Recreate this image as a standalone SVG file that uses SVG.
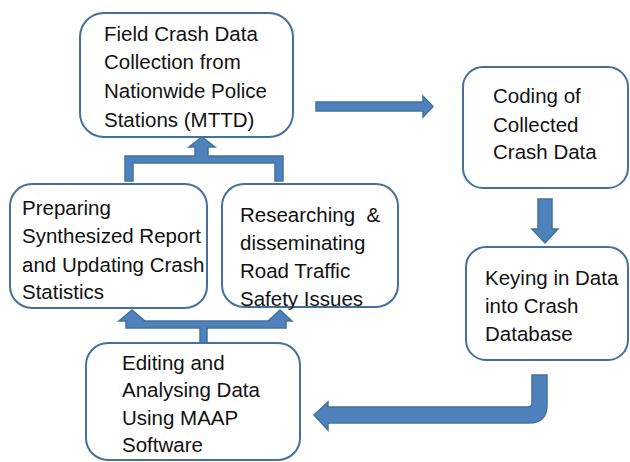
<svg xmlns="http://www.w3.org/2000/svg" width="630" height="462" viewBox="0 0 630 462">
<style>
.box{fill:#ffffff;stroke:#41719C;stroke-width:2}
.arr{fill:#4F81BD;stroke:#41719C;stroke-width:1.5;stroke-linejoin:miter}
text{font-family:"Liberation Sans",Arial,sans-serif;font-size:20.5px;fill:#111}
</style>
<rect width="630" height="462" fill="#ffffff"/>
<g id="connectors">
<polygon class="arr" points="316,102 423,102 423,96 433,106.5 423,117 423,111 316,111"/>
<polygon class="arr" points="538,199 552,199 552,229 558,229 545,243 532,229 538,229"/>
<path class="arr" d="M532,375 L547,375 L547,405 Q547,423 529,423 L328,423 L328,430 L314,415 L328,402 L328,407 L528,407 Q532,407 532,403 Z"/>
<polygon class="arr" points="125,181 125,156 195,156 195,147 189,147 202,137 215,147 208,147 208,156 283,156 283,181 275,181 275,163 133,163 133,181"/>
<polygon class="arr" points="126,328 126,321 119,321 132,310 145,321 268,321 280,310 292,321 286,321 286,328 207,328 207,343 200,343 200,328"/>
</g>
<g id="field">
<rect class="box" x="80" y="13" width="213" height="124" rx="24"/>
<text x="104" y="41">Field Crash Data</text>
<text x="104" y="69">Collection from</text>
<text x="104" y="98">Nationwide Police</text>
<text x="104" y="127">Stations (MTTD)</text>
</g>
<g id="coding">
<rect class="box" x="463" y="67" width="165" height="121" rx="20"/>
<text x="493" y="103">Coding of</text>
<text x="493" y="132">Collected</text>
<text x="493" y="159">Crash Data</text>
</g>
<g id="preparing">
<rect class="box" x="10" y="184" width="197" height="124" rx="22"/>
<text x="22" y="215">Preparing</text>
<text x="22" y="243">Synthesized Report</text>
<text x="22" y="272">and Updating Crash</text>
<text x="22" y="299">Statistics</text>
</g>
<g id="researching">
<rect class="box" x="222" y="184" width="176" height="123" rx="22"/>
<text x="240" y="222" xml:space="preserve">Researching  &amp;</text>
<text x="240" y="250">disseminating</text>
<text x="240" y="278">Road Traffic</text>
<text x="240" y="306">Safety Issues</text>
</g>
<g id="keying">
<rect class="box" x="466" y="247" width="162" height="113" rx="20"/>
<text x="485" y="285">Keying in Data</text>
<text x="485" y="313">into Crash</text>
<text x="485" y="341">Database</text>
</g>
<g id="editing">
<rect class="box" x="86" y="343" width="214" height="117" rx="22"/>
<text x="122" y="370">Editing and</text>
<text x="122" y="397">Analysing Data</text>
<text x="122" y="425">Using MAAP</text>
<text x="122" y="452">Software</text>
</g>
</svg>
